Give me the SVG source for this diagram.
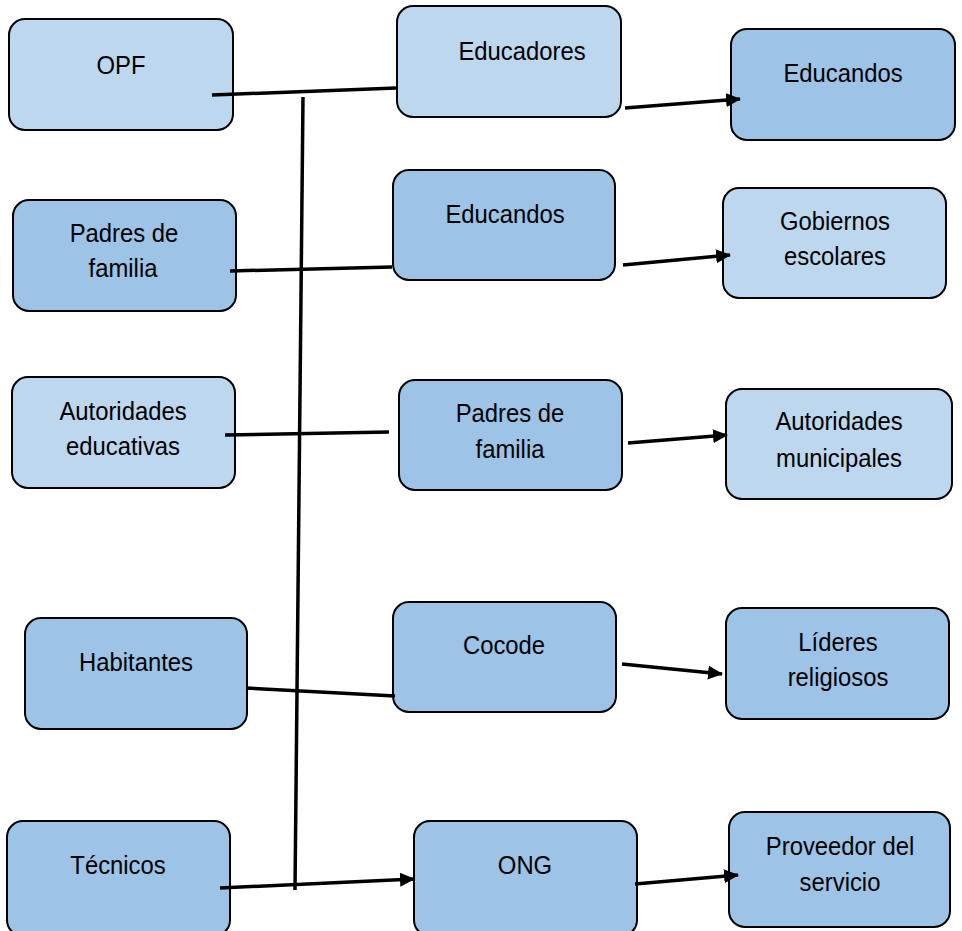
<svg xmlns="http://www.w3.org/2000/svg" width="962" height="931" viewBox="0 0 962 931">
<style>
.box rect{stroke:#000;stroke-width:2}
.l{fill:#BDD7EE}
.m{fill:#9DC3E6}
text{font-family:"Liberation Sans",Arial,sans-serif;font-size:26.5px;fill:#000;text-anchor:middle}
.c line{stroke:#000;stroke-width:3.5;stroke-linecap:butt}
</style>
<defs>
<marker id="ah" markerUnits="userSpaceOnUse" markerWidth="16" markerHeight="14" refX="14" refY="7" orient="auto">
<path d="M0,0 L15,7 L0,14 Z" fill="#000"/>
</marker>
</defs>
<rect width="962" height="931" fill="#fff"/>
<g id="opf" class="box"><rect class="l" x="9" y="19" width="224" height="111" rx="16"/><text transform="translate(121,74) scale(0.9,1)">OPF</text></g>
<g id="padres1" class="box"><rect class="m" x="13" y="200" width="223" height="111" rx="16"/><text transform="translate(124,242) scale(0.9,1)">Padres de</text><text transform="translate(123,277) scale(0.9,1)">familia</text></g>
<g id="autoridades1" class="box"><rect class="l" x="12" y="377" width="223" height="111" rx="16"/><text transform="translate(123,420) scale(0.9,1)">Autoridades</text><text transform="translate(123,455) scale(0.9,1)">educativas</text></g>
<g id="habitantes" class="box"><rect class="m" x="25" y="618" width="222" height="111" rx="16"/><text transform="translate(136,671) scale(0.9,1)">Habitantes</text></g>
<g id="tecnicos" class="box"><rect class="m" x="7" y="821" width="223" height="115" rx="16"/><text transform="translate(118,874) scale(0.9,1)">Técnicos</text></g>
<g id="educadores" class="box"><rect class="l" x="397" y="6" width="224" height="111" rx="16"/><text transform="translate(522,60) scale(0.9,1)">Educadores</text></g>
<g id="educandos1" class="box"><rect class="m" x="393" y="170" width="222" height="110" rx="16"/><text transform="translate(505,223) scale(0.9,1)">Educandos</text></g>
<g id="padres2" class="box"><rect class="m" x="399" y="380" width="223" height="110" rx="16"/><text transform="translate(510,422) scale(0.9,1)">Padres de</text><text transform="translate(510,458) scale(0.9,1)">familia</text></g>
<g id="cocode" class="box"><rect class="m" x="393" y="602" width="223" height="110" rx="16"/><text transform="translate(504,654) scale(0.9,1)">Cocode</text></g>
<g id="ong" class="box"><rect class="m" x="414" y="821" width="223" height="115" rx="16"/><text transform="translate(525,874) scale(0.9,1)">ONG</text></g>
<g id="educandos2" class="box"><rect class="m" x="731" y="29" width="224" height="111" rx="16"/><text transform="translate(843,82) scale(0.9,1)">Educandos</text></g>
<g id="gobiernos" class="box"><rect class="l" x="723" y="188" width="223" height="110" rx="16"/><text transform="translate(835,230) scale(0.9,1)">Gobiernos</text><text transform="translate(835,265) scale(0.9,1)">escolares</text></g>
<g id="autoridades2" class="box"><rect class="l" x="726" y="389" width="226" height="110" rx="16"/><text transform="translate(839,430) scale(0.9,1)">Autoridades</text><text transform="translate(839,467) scale(0.9,1)">municipales</text></g>
<g id="lideres" class="box"><rect class="m" x="726" y="608" width="223" height="111" rx="16"/><text transform="translate(838,651) scale(0.9,1)">Líderes</text><text transform="translate(838,686) scale(0.9,1)">religiosos</text></g>
<g id="proveedor" class="box"><rect class="m" x="729" y="812" width="221" height="115" rx="16"/><text transform="translate(840,855) scale(0.9,1)">Proveedor del</text><text transform="translate(840,891) scale(0.9,1)">servicio</text></g>
<g id="connectors" class="c">
<line x1="212" y1="95" x2="396" y2="88"/>
<line x1="303" y1="97" x2="295" y2="890"/>
<line x1="230" y1="271" x2="392" y2="267"/>
<line x1="225" y1="435" x2="389" y2="432"/>
<line x1="246" y1="688" x2="395" y2="696"/>
<line x1="220" y1="888" x2="414" y2="879" marker-end="url(#ah)"/>
<line x1="625" y1="108" x2="740" y2="99" marker-end="url(#ah)"/>
<line x1="623" y1="265" x2="730" y2="255" marker-end="url(#ah)"/>
<line x1="628" y1="443" x2="727" y2="435" marker-end="url(#ah)"/>
<line x1="622" y1="664" x2="722" y2="674" marker-end="url(#ah)"/>
<line x1="635" y1="884" x2="738" y2="875" marker-end="url(#ah)"/>
</g>
</svg>
